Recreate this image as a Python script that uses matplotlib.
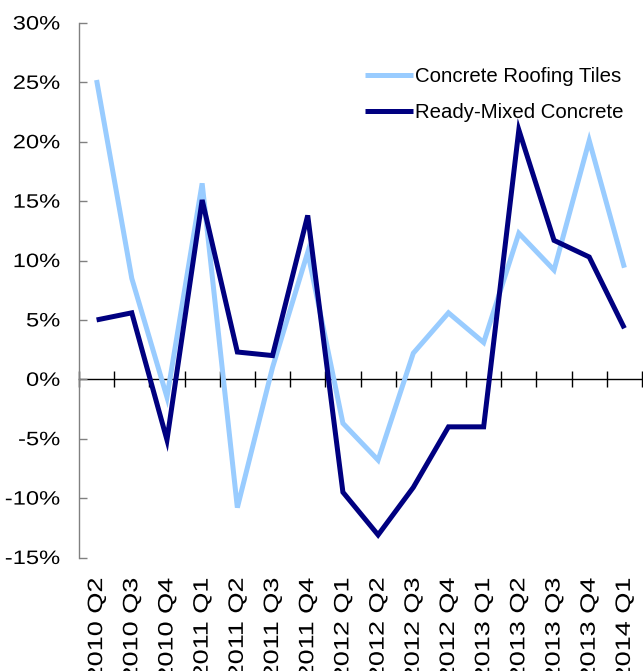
import matplotlib
matplotlib.use("Agg")
import matplotlib.pyplot as plt
from matplotlib.patheffects import AbstractPathEffect
from matplotlib.transforms import Affine2D

categories = ["2010 Q2", "2010 Q3", "2010 Q4", "2011 Q1", "2011 Q2", "2011 Q3",
              "2011 Q4", "2012 Q1", "2012 Q2", "2012 Q3", "2012 Q4", "2013 Q1",
              "2013 Q2", "2013 Q3", "2013 Q4", "2014 Q1"]
roofing_tiles = [25.2, 8.5, -1.5, 16.5, -10.8, 1.0, 10.7, -3.7, -6.8, 2.2,
                 5.6, 3.1, 12.3, 9.2, 20.1, 9.4]
ready_mixed = [5.0, 5.6, -5.1, 15.1, 2.3, 2.0, 13.8, -9.5, -13.1, -9.1,
               -4.0, -4.0, 21.0, 11.7, 10.3, 4.3]
series_names = ["Concrete Roofing Tiles", "Ready-Mixed Concrete"]
y_ticks = [-15, -10, -5, 0, 5, 10, 15, 20, 25, 30]
y_tick_labels = [f"{v}%" for v in y_ticks]


class StretchText(AbstractPathEffect):
    """Widen glyphs along the text direction, anchored at the text end."""
    def __init__(self, sx):
        super().__init__()
        self.sx = sx

    def draw_path(self, renderer, gc, tpath, affine, rgbFace=None):
        ext = tpath.get_extents()
        xr = ext.x1
        tr = Affine2D().translate(-xr, 0).scale(self.sx, 1).translate(xr, 0) + affine
        renderer.draw_path(gc, tpath, tr, rgbFace)


plt.rcParams['font.family'] = ['Liberation Sans', 'DejaVu Sans']

W, H = 643, 671
fig = plt.figure(figsize=(W / 100, H / 100), dpi=100)
left, right, top, bottom = 79, 642, 23, 557.5
ax = fig.add_axes([left / W, 1 - bottom / H, (right - left) / W, (bottom - top) / H])

x = list(range(len(categories)))
ax.plot(x, roofing_tiles, color="#99CCFF", lw=3.6, solid_joinstyle="miter",
        solid_capstyle="butt", label=series_names[0], zorder=3)
ax.plot(x, ready_mixed, color="#000080", lw=3.6, solid_joinstyle="miter",
        solid_capstyle="butt", label=series_names[1], zorder=4)

ax.set_xlim(-0.5, len(categories) - 0.5)
ax.set_ylim(-15, 30)

for s in ["top", "right", "bottom"]:
    ax.spines[s].set_visible(False)
ax.spines["left"].set_color("#808080")
ax.spines["left"].set_linewidth(1.0)

ax.set_yticks(y_ticks)
ax.set_yticklabels(y_tick_labels)
ax.tick_params(axis="y", direction="in", length=6, width=1.0, color="#808080",
               pad=13.5, labelsize=14, labelcolor="black")

ax.set_xticks(x)
ax.set_xticklabels(categories, rotation=90)
ax.tick_params(axis="x", length=0, pad=14.5, labelsize=15, labelcolor="black")

for lab in ax.get_yticklabels():
    lab.set_path_effects([StretchText(1.22)])
for lab in ax.get_xticklabels():
    lab.set_path_effects([StretchText(1.3)])

# zero line with category-boundary tick marks
sec = ax.secondary_xaxis(1 / 3)
sec.spines["bottom"].set_color("black")
sec.spines["bottom"].set_linewidth(1.0)
sec.set_xticks([i - 0.5 for i in range(len(categories) + 1)])
sec.set_xticklabels([])
sec.tick_params(axis="x", direction="inout", length=12, width=1.0, color="black")

leg = ax.legend(loc="upper left", bbox_to_anchor=(365 / W, 1 - 67 / H),
                bbox_transform=fig.transFigure, frameon=False, fontsize=14.7,
                handlelength=2.35, handletextpad=0.12, labelspacing=0.85,
                borderpad=0, borderaxespad=0)

fig.savefig("out.png", dpi=100)
